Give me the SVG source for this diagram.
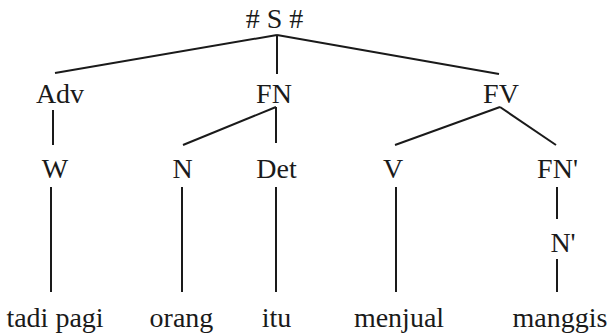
<svg xmlns="http://www.w3.org/2000/svg" width="611" height="336" viewBox="0 0 611 336">
  <defs>
    <style>
      line { stroke: #1a1a1a; stroke-width: 2; fill: none; }
    </style>
  </defs>
  <g id="connectors">
    <line x1="277" y1="35" x2="55" y2="73"/>
    <line x1="277" y1="35" x2="277" y2="74"/>
    <line x1="277" y1="35" x2="499" y2="74"/>
    <line x1="53" y1="110" x2="53" y2="145"/>
    <line x1="276" y1="107" x2="183" y2="145"/>
    <line x1="276" y1="107" x2="276" y2="143"/>
    <line x1="500" y1="107" x2="395" y2="145"/>
    <line x1="500" y1="107" x2="556" y2="145"/>
    <line x1="51" y1="187" x2="51" y2="292"/>
    <line x1="182" y1="187" x2="182" y2="292"/>
    <line x1="276" y1="187" x2="276" y2="292"/>
    <line x1="396" y1="187" x2="396" y2="292"/>
    <line x1="557" y1="187" x2="557" y2="219"/>
    <line x1="557" y1="259" x2="557" y2="292"/>
  </g>
  <!-- labels are placed by their left edge, Times-width serif at 28px -->
  <g id="node-S"><text font-family="Liberation Serif" font-size="28" fill="#1a1a1a" x="245.7" y="28"># S #</text></g>
  <g id="node-Adv"><text font-family="Liberation Serif" font-size="28" fill="#1a1a1a" x="35.9" y="103">Adv</text></g>
  <g id="node-FN"><text font-family="Liberation Serif" font-size="28" fill="#1a1a1a" x="256.1" y="103">FN</text></g>
  <g id="node-FV"><text font-family="Liberation Serif" font-size="28" fill="#1a1a1a" x="483.1" y="103">FV</text></g>
  <g id="node-W"><text font-family="Liberation Serif" font-size="28" fill="#1a1a1a" x="41.8" y="178">W</text></g>
  <g id="node-N"><text font-family="Liberation Serif" font-size="28" fill="#1a1a1a" x="172.4" y="178">N</text></g>
  <g id="node-Det"><text font-family="Liberation Serif" font-size="28" fill="#1a1a1a" x="256.3" y="178">Det</text></g>
  <g id="node-V"><text font-family="Liberation Serif" font-size="28" fill="#1a1a1a" x="382.9" y="178">V</text></g>
  <g id="node-FNp"><text font-family="Liberation Serif" font-size="28" fill="#1a1a1a" x="537.1" y="178">FN'</text></g>
  <g id="node-Np"><text font-family="Liberation Serif" font-size="28" fill="#1a1a1a" x="550.4" y="252">N'</text></g>
  <g id="word-tadi-pagi"><text font-family="Liberation Serif" font-size="28" fill="#1a1a1a" x="6.4" y="327">tadi pagi</text></g>
  <g id="word-orang"><text font-family="Liberation Serif" font-size="28" fill="#1a1a1a" x="149.6" y="327">orang</text></g>
  <g id="word-itu"><text font-family="Liberation Serif" font-size="28" fill="#1a1a1a" x="261.7" y="327">itu</text></g>
  <g id="word-menjual"><text font-family="Liberation Serif" font-size="28" fill="#1a1a1a" x="353.9" y="327">menjual</text></g>
  <g id="word-manggis"><text font-family="Liberation Serif" font-size="28" fill="#1a1a1a" x="512.6" y="327">manggis</text></g>
</svg>
